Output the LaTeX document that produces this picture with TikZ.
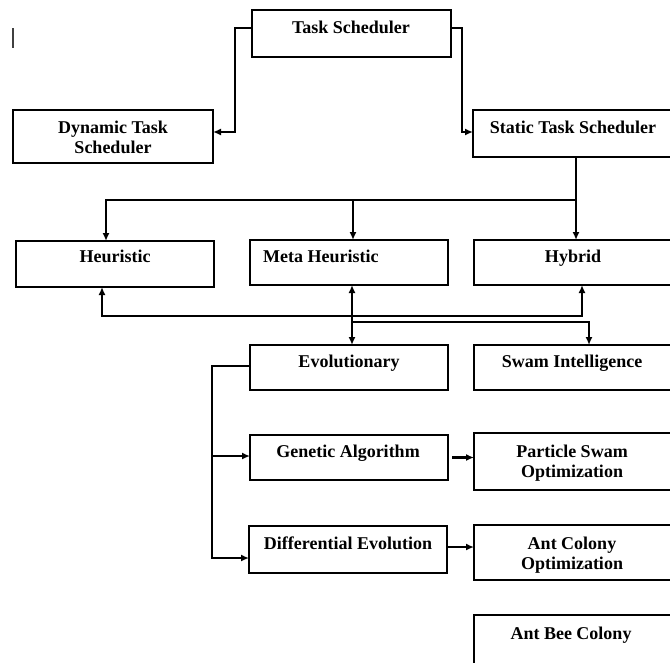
\documentclass[tikz,border=0pt]{standalone}
\usepackage{fontspec}
\setmainfont{Liberation Serif}
\usetikzlibrary{arrows.meta}
\begin{document}
\begin{tikzpicture}[x=1pt,y=-1pt,
  box/.style={draw=black, line width=2.6pt, inner sep=0pt, outer sep=0pt, minimum width=198pt},
  lbl/.style={font=\bfseries\fontsize{18}{20}\selectfont, inner sep=0pt, anchor=base},
  lbl2/.style={font=\bfseries\fontsize{18}{20}\selectfont, inner sep=0pt, align=center},
  conn/.style={line width=2.2pt, draw=black},
  tip/.style={-{Latex[length=8pt,width=7pt]}},
  tips/.style={{Latex[length=8pt,width=7pt]}-{Latex[length=8pt,width=7pt]}}]
\useasboundingbox (0,0) rectangle (670,662);
\clip (0,0) rectangle (670,662);
% boxes
\node[box, minimum width=199pt, minimum height=47pt] (ts) at (351.5,33.5) {};
\node[box, minimum width=200pt, minimum height=53pt] (dyn) at (113,136.5) {};
\node[box, minimum width=199pt, minimum height=47pt] (stat) at (572.5,133.5) {};
\node[box, minimum height=46pt] (heu) at (115,264) {};
\node[box, minimum height=45pt] (meta) at (349,262.5) {};
\node[box, minimum height=45pt] (hyb) at (573,262.5) {};
\node[box, minimum height=45pt] (evo) at (349,367.5) {};
\node[box, minimum height=45pt] (swam) at (573,367.5) {};
\node[box, minimum height=45pt] (ga) at (349,457.5) {};
\node[box, minimum height=57pt] (pso) at (573,461.5) {};
\node[box, minimum height=47pt] (de) at (348,549.5) {};
\node[box, minimum height=55pt] (aco) at (573,552.5) {};
\node[box, minimum height=50pt] (abc) at (573,640) {};
% texts
\node[lbl] (tsT) at (351,33) {Task Scheduler};
\node[lbl2] (dynT) at (113,137) {Dynamic Task\\Scheduler};
\node[lbl] (statT) at (573,133) {Static Task Scheduler};
\node[lbl] (heuT) at (115,262) {Heuristic};
\node[lbl, anchor=base west] (metaT) at (263,262) {Meta Heuristic};
\node[lbl] (hybT) at (573,262) {Hybrid};
\node[lbl] (evoT) at (349,367) {Evolutionary};
\node[lbl] (swamT) at (572,367) {Swam Intelligence};
\node[lbl] (gaT) at (348,457) {Genetic Algorithm};
\node[lbl2] (psoT) at (572,463) {Particle Swam\\Optimization};
\node[lbl] (deT) at (348,549) {Differential Evolution};
\node[lbl2] (acoT) at (572,555) {Ant Colony\\Optimization};
\node[lbl] (abcT) at (571,639) {Ant Bee Colony};
% bend points
\coordinate (L1) at (235,28); \coordinate (L2) at (235,132);
\coordinate (R1) at (462,28); \coordinate (R2) at (462,132);
\coordinate (S) at (576,200); \coordinate (H1) at (106,200); \coordinate (M1) at (353,200);
\coordinate (B1) at (102,316); \coordinate (B2) at (582,316);
\coordinate (V) at (352,316);
\coordinate (W1) at (352,322); \coordinate (W2) at (589,322);
\coordinate (E1) at (212,366); \coordinate (E2) at (212,558); \coordinate (E3) at (212,456);
\coordinate (D1) at (447,547);
% connectors
\draw[conn, tip] (ts.west |- L1) -- (L1) -- (L2) -- (dyn.east |- L2);
\draw[conn, tip] (ts.east |- R1) -- (R1) -- (R2) -- (stat.west |- R2);
\draw[conn, tip] (stat.south -| S) -- (hyb.north -| S);
\draw[conn, tip] (S) -- (H1) -- (heu.north -| H1);
\draw[conn, tip] (M1) -- (meta.north -| M1);
\draw[conn, tips] (heu.south -| B1) -- (B1) -- (B2) -- (hyb.south -| B2);
\draw[conn, tips] (meta.south -| V) -- (evo.north -| V);
\draw[conn, tip] (W1) -- (W2) -- (swam.north -| W2);
\draw[conn, tip] (evo.west |- E1) -- (E1) -- (E2) -- (de.west |- E2);
\draw[conn, tip] (E3) -- (ga.west |- E3);
\draw[conn, tip, shorten <=4pt] (ga.east) -- (pso.west |- ga.east);
\draw[conn, tip] (de.east |- D1) -- (aco.west |- D1);
% stray mark
\draw[line width=1.5pt, black!75] (13,28) -- (13,48);
\end{tikzpicture}
\end{document}
